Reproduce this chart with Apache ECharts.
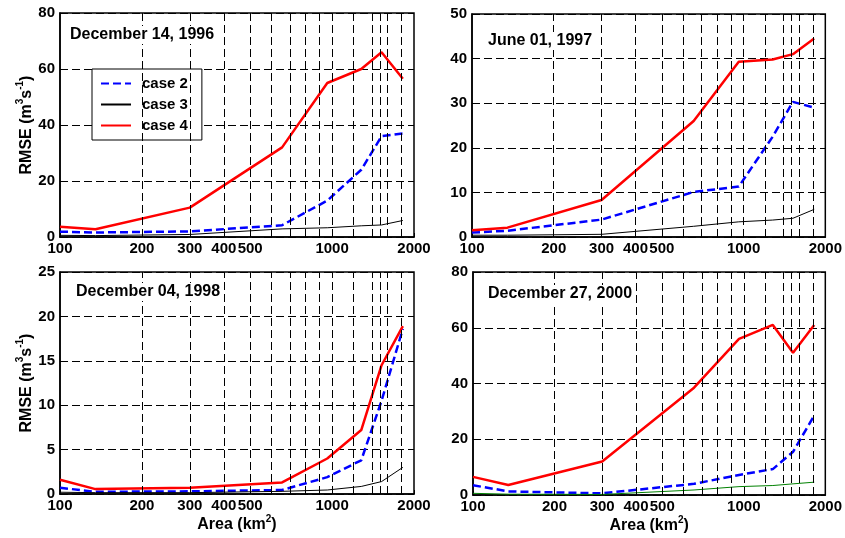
<!DOCTYPE html>
<html>
<head>
<meta charset="utf-8">
<script src="https://cdn.jsdelivr.net/npm/echarts@6/dist/echarts.min.js"></script>
<style>
  html, body { margin: 0; padding: 0; background: #fff; }
  #chart { width: 845px; height: 538px; }
</style>
</head>
<body>
<div id="chart"></div>
<script>
/*
 * RMSE vs drainage area, 4 storm events
 */

// sub-basin areas (km2), shared by all panels
var areaX = [100, 135, 300, 655, 960, 1280, 1520, 1820];
// vertical dashed grid positions
var gridX = [200, 300, 400, 500, 600, 700, 800, 900, 1000, 1200, 1400, 1500, 1600, 1800];
// labelled x ticks
var xTicks = [100, 200, 300, 400, 500, 1000, 2000];

var titles = ["December 14, 1996", "June 01, 1997", "December 04, 1998", "December 27, 2000"];
var yMax = [80, 50, 25, 80];
var yStep = [20, 10, 5, 20];

// case 2 (blue dashed)
var case2 = [
  [1.9, 1.6, 2.0, 4.2, 13, 24, 36, 37],
  [1.0, 1.4, 3.9, 10.1, 11.3, 22.5, 30.3, 29],
  [0.7, 0.25, 0.3, 0.45, 1.9, 3.8, 10.5, 18.6],
  [3.5, 1.3, 0.6, 4.0, 7.2, 9.3, 15.5, 28.5]
];
// case 3 (thin line)
var case3 = [
  [0.6, 0.5, 0.9, 2.9, 3.3, 4.0, 4.3, 5.9],
  [0.4, 0.4, 0.6, 2.4, 3.4, 3.8, 4.2, 6.2],
  [0.2, 0.15, 0.15, 0.3, 0.45, 0.85, 1.4, 3.0],
  [0.6, 0.3, 0.2, 1.8, 3.0, 3.4, 4.0, 4.6]
];
// case 4 (red)
var case4 = [
  [3.7, 2.8, 10.5, 32, 55, 60, 66, 56.5],
  [1.5, 2.1, 8.3, 26, 39.3, 39.8, 41, 44.5],
  [1.6, 0.55, 0.7, 1.3, 4.0, 7.2, 14.5, 18.9],
  [6.5, 3.6, 12, 38.5, 56, 61, 51, 61]
];
var case3Color = ["#000000", "#000000", "#000000", "#008000"];

var FONT = "Liberation Sans, Arial, sans-serif";

// plot boxes in pixels
var boxes = [
  { left: 60, top: 13, width: 354, height: 224 },
  { left: 472, top: 14, width: 354, height: 223 },
  { left: 60, top: 272, width: 354, height: 222 },
  { left: 473, top: 272, width: 355, height: 223 }
];
var titlePos = [[68, 26], [486, 32], [74, 283], [486, 285]];

function pairs(ys) {
  return areaX.map(function (x, k) {
    return [x, ys[k]];
  });
}

var supRich = {
  a: { fontFamily: FONT, fontWeight: "bold", fontSize: 16, color: "#000", lineHeight: 22 },
  s: { fontFamily: FONT, fontWeight: "bold", fontSize: 10, color: "#000", lineHeight: 10, verticalAlign: "top" }
};

var grids = [], xAxes = [], yAxes = [], series = [], titleList = [];

for (var i = 0; i < 4; i++) {
  var b = boxes[i];
  grids.push({
    left: b.left, top: b.top, width: b.width, height: b.height,
    show: true, borderColor: "#000", borderWidth: 1.5, backgroundColor: "#fff"
  });

  xAxes.push({
    type: "log", gridIndex: i, min: 100, max: 2000, logBase: 10,
    name: i >= 2 ? "{a|Area (km}{s|2}{a|)}" : "",
    nameLocation: "middle", nameGap: 17,
    nameTextStyle: { rich: supRich },
    axisLine: { lineStyle: { color: "#000", width: 1.5 } },
    axisTick: { inside: true, length: 4, customValues: xTicks, lineStyle: { color: "#000" } },
    axisLabel: {
      customValues: xTicks, margin: 4, color: "#000",
      fontFamily: FONT, fontWeight: "bold", fontSize: 15,
      showMinLabel: true, showMaxLabel: true,
      formatter: function (v) { return String(Math.round(v)); }
    },
    splitLine: { show: false }
  });

  yAxes.push({
    type: "value", gridIndex: i, min: 0, max: yMax[i], interval: yStep[i],
    name: i % 2 === 0 ? "{a|RMSE (m}{s|3}{a|s}{s|-1}{a|)}" : "",
    nameLocation: "middle", nameGap: 22,
    nameTextStyle: { rich: supRich },
    axisLine: { lineStyle: { color: "#000", width: 1.5 } },
    axisTick: { inside: true, length: 4, lineStyle: { color: "#000" } },
    axisLabel: { margin: 5, color: "#000", fontFamily: FONT, fontWeight: "bold", fontSize: 15 },
    splitLine: { show: true, lineStyle: { color: "#000", type: [8, 4], width: 1 } }
  });

  // vertical dashed grid
  series.push({
    type: "line", name: "vgrid", xAxisIndex: i, yAxisIndex: i, data: [], z: 1,
    markLine: {
      silent: true, symbol: ["none", "none"], label: { show: false },
      lineStyle: { color: "#000", type: [8, 4], width: 1 },
      data: gridX.map(function (v) { return { xAxis: v }; })
    }
  });

  series.push({
    type: "line", name: "case 2", xAxisIndex: i, yAxisIndex: i, data: pairs(case2[i]),
    symbol: "none", z: 3,
    lineStyle: { color: "#0000ff", width: 2.5, type: [8, 4] }, itemStyle: { color: "#0000ff" }
  });
  series.push({
    type: "line", name: "case 3", xAxisIndex: i, yAxisIndex: i, data: pairs(case3[i]),
    symbol: "none", z: 3,
    lineStyle: { color: case3Color[i], width: 1 }, itemStyle: { color: case3Color[i] }
  });
  series.push({
    type: "line", name: "case 4", xAxisIndex: i, yAxisIndex: i, data: pairs(case4[i]),
    symbol: "none", z: 3,
    lineStyle: { color: "#ff0000", width: 2.5 }, itemStyle: { color: "#ff0000" }
  });

  titleList.push({
    text: titles[i], left: titlePos[i][0], top: titlePos[i][1],
    backgroundColor: "#fff", padding: [1, 2],
    textStyle: { fontFamily: FONT, fontWeight: "bold", fontSize: 16, color: "#000", lineHeight: 16 }
  });
}

var chart = echarts.init(document.getElementById("chart"), null, { renderer: "canvas" });
chart.setOption({
  animation: false,
  backgroundColor: "#fff",
  title: titleList,
  legend: {
    data: ["case 2", "case 3", "case 4"],
    orient: "vertical", left: 92, top: 69,
    backgroundColor: "#fff", borderColor: "#000", borderWidth: 1, borderRadius: 0,
    padding: [7, 14, 7, 8],
    itemWidth: 30, itemHeight: 14, itemGap: 6,
    itemStyle: { opacity: 0 },
    textStyle: { fontFamily: FONT, fontWeight: "bold", fontSize: 15, color: "#000", padding: [0, 0, 0, 6] }
  },
  grid: grids,
  xAxis: xAxes,
  yAxis: yAxes,
  series: series
});
</script>
</body>
</html>
